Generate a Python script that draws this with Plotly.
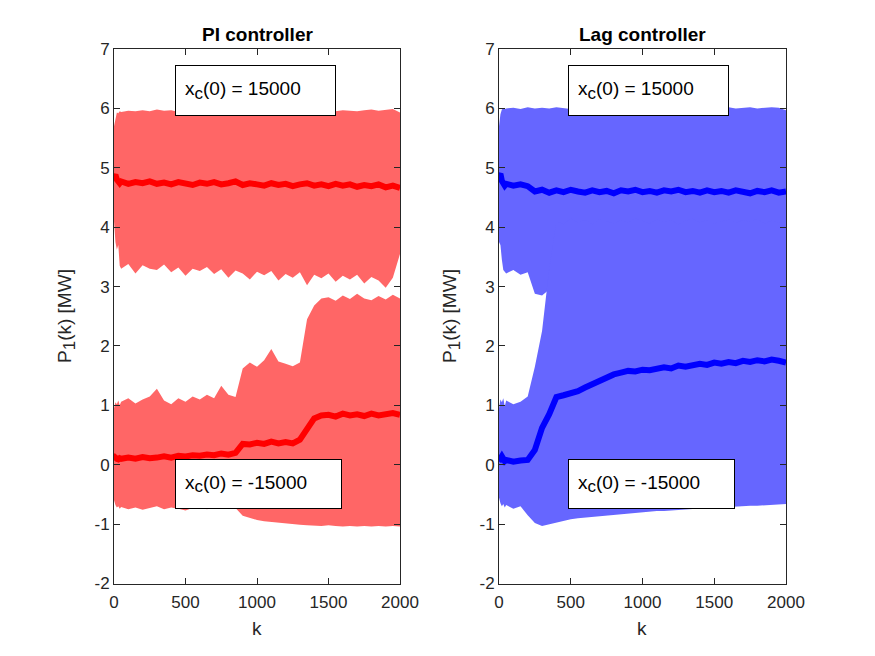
import plotly.graph_objects as go
from plotly.subplots import make_subplots

# sample index k (finer at the start where the transient is)
k_vals = [0, 10, 20, 30, 40, 50, 100, 150, 200, 250, 300, 350, 400, 450, 500, 550, 600,
          650, 700, 750, 800, 850, 900, 950, 1000, 1050, 1100, 1150, 1200, 1250, 1300,
          1350, 1400, 1450, 1500, 1550, 1600, 1650, 1700, 1750, 1800, 1850, 1900, 1950, 2000]

# ---- PI controller ----
# x_c(0) = 15000 : envelope and mean
pi_hi_top = [5.70, 5.85, 5.93, 5.92, 5.95, 5.94, 5.96, 5.95, 5.97, 5.95, 5.98, 5.96, 5.97,
             5.94, 5.96, 5.95, 5.97, 5.96, 5.95, 5.97, 5.96, 5.98, 5.95, 5.96, 5.97, 5.95,
             5.96, 5.98, 5.95, 5.97, 5.96, 5.95, 5.97, 5.96, 5.98, 5.95, 5.97, 5.96, 5.95,
             5.97, 5.98, 5.96, 5.97, 5.99, 5.93]
pi_lo_top = [4.10, 3.75, 3.62, 3.70, 3.35, 3.30, 3.38, 3.22, 3.36, 3.30, 3.28, 3.37, 3.24,
             3.32, 3.18, 3.30, 3.26, 3.33, 3.21, 3.29, 3.15, 3.27, 3.22, 3.12, 3.25, 3.19,
             3.26, 3.10, 3.21, 3.15, 3.24, 3.02, 3.20, 3.14, 3.22, 3.08, 3.18, 3.12, 3.20,
             3.05, 3.16, 3.10, 2.98, 3.15, 3.55]
pi_mu_top = [4.85, 4.88, 4.80, 4.76, 4.74, 4.77, 4.73, 4.76, 4.74, 4.77, 4.73, 4.75, 4.72,
             4.76, 4.74, 4.71, 4.75, 4.73, 4.76, 4.72, 4.74, 4.77, 4.71, 4.74, 4.72, 4.70,
             4.74, 4.71, 4.73, 4.69, 4.72, 4.74, 4.70, 4.72, 4.69, 4.73, 4.70, 4.72, 4.68,
             4.71, 4.69, 4.72, 4.67, 4.70, 4.66]
# x_c(0) = -15000
pi_hi_bot = [0.95, 1.05, 1.02, 1.08, 1.00, 1.06, 1.12, 1.03, 1.10, 1.15, 1.28, 1.08, 1.02,
             1.12, 1.06, 1.15, 1.10, 1.18, 1.12, 1.33, 1.18, 1.14, 1.62, 1.72, 1.65, 1.76,
             1.95, 1.74, 1.70, 1.66, 1.72, 2.45, 2.68, 2.80, 2.82, 2.76, 2.85, 2.79, 2.88,
             2.80, 2.77, 2.84, 2.78, 2.86, 2.80]
pi_lo_bot = [-0.60, -0.68, -0.72, -0.70, -0.74, -0.71, -0.75, -0.72, -0.76, -0.73, -0.70,
             -0.75, -0.72, -0.74, -0.77, -0.73, -0.71, -0.75, -0.72, -0.74, -0.70, -0.73,
             -0.86, -0.90, -0.93, -0.95, -0.97, -0.98, -0.99, -1.00, -1.01, -1.02, -1.03,
             -1.03, -1.02, -1.03, -1.04, -1.03, -1.04, -1.03, -1.04, -1.03, -1.04, -1.03, -1.04]
pi_mu_bot = [0.08, 0.12, 0.10, 0.09, 0.11, 0.10, 0.12, 0.10, 0.13, 0.11, 0.12, 0.14, 0.12,
             0.15, 0.14, 0.16, 0.15, 0.17, 0.16, 0.19, 0.17, 0.20, 0.35, 0.34, 0.37, 0.35,
             0.39, 0.36, 0.38, 0.36, 0.42, 0.60, 0.78, 0.83, 0.84, 0.81, 0.86, 0.83, 0.85,
             0.82, 0.86, 0.83, 0.85, 0.87, 0.84]

# ---- Lag controller ----
lag_hi_top = [5.70, 5.90, 5.98, 6.00, 5.99, 6.00, 6.01, 5.99, 6.02, 6.00, 6.01, 6.00, 6.02,
              6.01, 5.99, 6.01, 6.02, 6.00, 6.01, 6.02, 6.00, 6.01, 5.99, 6.02, 6.01, 6.00,
              6.02, 6.01, 6.00, 6.02, 6.01, 6.00, 6.02, 6.01, 5.99, 6.01, 6.02, 6.00, 6.01,
              6.02, 6.00, 6.01, 6.02, 6.01, 5.97]
lag_lo_top = [3.75, 3.70, 3.45, 3.28, 3.25, 3.22, 3.28, 3.20, 3.24, 2.88, 2.85, 2.95, 3.10,
              3.15, 3.12, 3.18, 3.14, 3.20, 3.16, 3.12, 3.18, 3.15, 3.20, 3.14, 3.17, 3.21,
              3.15, 3.18, 3.13, 3.20, 3.16, 3.19, 3.14, 3.18, 3.21, 3.15, 3.19, 3.16, 3.20,
              3.14, 3.18, 3.22, 3.16, 3.19, 3.40]
lag_mu_top = [4.86, 4.90, 4.78, 4.72, 4.70, 4.73, 4.70, 4.72, 4.69, 4.60, 4.63, 4.58, 4.62,
              4.59, 4.63, 4.60, 4.58, 4.62, 4.59, 4.61, 4.57, 4.62, 4.60, 4.63, 4.59, 4.61,
              4.58, 4.62, 4.60, 4.63, 4.59, 4.61, 4.58, 4.62, 4.59, 4.61, 4.58, 4.62, 4.60,
              4.57, 4.61, 4.59, 4.62, 4.58, 4.60]
lag_hi_bot = [0.95, 1.10, 1.05, 1.12, 0.98, 1.08, 1.02, 1.06, 1.15, 1.65, 2.25, 3.30, 4.10,
              4.05, 4.15, 4.08, 4.12, 4.05, 4.14, 4.10, 4.06, 4.12, 4.08, 4.15, 4.10, 4.06,
              4.13, 4.09, 4.12, 4.05, 4.11, 4.14, 4.08, 4.12, 4.06, 4.10, 4.13, 4.07, 4.12,
              4.09, 4.14, 4.06, 4.11, 4.08, 4.10]
lag_lo_bot = [-0.55, -0.65, -0.70, -0.66, -0.72, -0.68, -0.74, -0.70, -0.85, -0.98, -1.03,
              -1.00, -0.97, -0.95, -0.92, -0.90, -0.88, -0.87, -0.86, -0.85, -0.84, -0.83,
              -0.82, -0.81, -0.80, -0.79, -0.78, -0.78, -0.77, -0.76, -0.75, -0.75, -0.74,
              -0.73, -0.72, -0.72, -0.71, -0.70, -0.70, -0.69, -0.69, -0.68, -0.68, -0.67, -0.66]
lag_mu_bot = [0.12, 0.10, 0.14, 0.08, 0.06, 0.08, 0.05, 0.07, 0.08, 0.25, 0.62, 0.85, 1.14,
              1.17, 1.20, 1.24, 1.30, 1.36, 1.42, 1.47, 1.52, 1.55, 1.58, 1.57, 1.60, 1.59,
              1.62, 1.64, 1.62, 1.67, 1.65, 1.68, 1.70, 1.68, 1.72, 1.70, 1.73, 1.71, 1.75,
              1.73, 1.76, 1.74, 1.77, 1.75, 1.72]

titles = ["PI controller", "Lag controller"]
box_labels = ["x<sub><span style='font-size:17px'>c</span></sub>(0) = 15000",
              "x<sub><span style='font-size:17px'>c</span></sub>(0) = -15000"]
y_label = "P<sub><span style='font-size:17px'>1</span></sub>(k) [MW]"
x_ticks = [0, 500, 1000, 1500, 2000]
y_ticks = [-2, -1, 0, 1, 2, 3, 4, 5, 6, 7]

panels = [
    dict(bands=[(pi_hi_top, pi_lo_top), (pi_hi_bot, pi_lo_bot)], means=[pi_mu_top, pi_mu_bot],
         fill="#FF6666", line="#FF0000"),
    dict(bands=[(lag_hi_top, lag_lo_top), (lag_hi_bot, lag_lo_bot)], means=[lag_mu_top, lag_mu_bot],
         fill="#6666FF", line="#0000FF"),
]

W, H = 875, 656
fig = make_subplots(rows=1, cols=2)

for col, p in enumerate(panels, start=1):
    # shaded envelopes first, so mean lines sit on top
    for hi, lo in p["bands"]:
        fig.add_trace(go.Scatter(x=k_vals + k_vals[::-1], y=hi + lo[::-1], fill="toself",
                                 fillcolor=p["fill"], line=dict(width=0), mode="lines",
                                 hoverinfo="skip", showlegend=False), row=1, col=col)
    for mu in p["means"]:
        fig.add_trace(go.Scatter(x=k_vals, y=mu, mode="lines",
                                 line=dict(color=p["line"], width=6),
                                 showlegend=False), row=1, col=col)

axis_style = dict(showline=True, linecolor="#262626", linewidth=1, mirror="ticks",
                  ticks="inside", ticklen=6, tickcolor="#262626", showgrid=False,
                  zeroline=False, automargin=False,
                  tickfont=dict(family="Liberation Sans", size=17, color="#262626"))

x_domains = [[114 / W, 400 / W], [499 / W, 786 / W]]
y_domain = [(H - 583.5) / H, (H - 49) / H]

for i in range(2):
    fig.update_xaxes(range=[0, 2000], tickvals=x_ticks, ticktext=[str(t) for t in x_ticks],
                     ticklabelstandoff=3, domain=x_domains[i], row=1, col=i + 1, **axis_style)
    fig.update_yaxes(range=[-2, 7], tickvals=y_ticks, ticktext=[str(t) for t in y_ticks],
                     domain=y_domain, row=1, col=i + 1, **axis_style)

annotations = []
text_font = dict(family="Liberation Sans", size=19, color="#000000")
label_font = dict(family="Liberation Sans", size=19, color="#262626")
box_x = [427, 481]
for i in range(2):
    xref = "x" if i == 0 else "x2"
    yref = "y" if i == 0 else "y2"
    cx = (x_domains[i][0] + x_domains[i][1]) / 2
    annotations.append(dict(text="<b>" + titles[i] + "</b>", x=cx, y=(H - 35) / H, xref="paper",
                            yref="paper", xanchor="center", yanchor="middle", showarrow=False,
                            font=dict(family="Liberation Sans", size=19, color="#000000")))
    annotations.append(dict(text="k", x=cx, y=(H - 628) / H, xref="paper", yref="paper",
                            xanchor="center", yanchor="middle", showarrow=False, font=label_font))
    annotations.append(dict(text=y_label, x=(x_domains[i][0] * W - 48) / W,
                            y=(H - 316) / H, xref="paper", yref="paper", textangle=-90,
                            xanchor="center", yanchor="middle", showarrow=False, font=label_font))
    annotations.append(dict(text=box_labels[0], x=box_x[i], y=6.73, xref=xref, yref=yref,
                            xanchor="left", yanchor="top", showarrow=False, align="left",
                            width=141, height=31, borderpad=9, bordercolor="#000000",
                            borderwidth=1, bgcolor="#FFFFFF", font=text_font))
    annotations.append(dict(text=box_labels[1], x=box_x[i], y=0.096, xref=xref, yref=yref,
                            xanchor="left", yanchor="top", showarrow=False, align="left",
                            width=147, height=30, borderpad=9, bordercolor="#000000",
                            borderwidth=1, bgcolor="#FFFFFF", font=text_font))

fig.update_layout(width=W, height=H, margin=dict(l=0, r=0, t=0, b=0),
                  paper_bgcolor="white", plot_bgcolor="white", annotations=annotations)

# drop the browser's default page margin so the figure sits at the window corner
fig.write_html("out.html", config={"displayModeBar": False},
               post_script="document.body.style.margin='0px';")
